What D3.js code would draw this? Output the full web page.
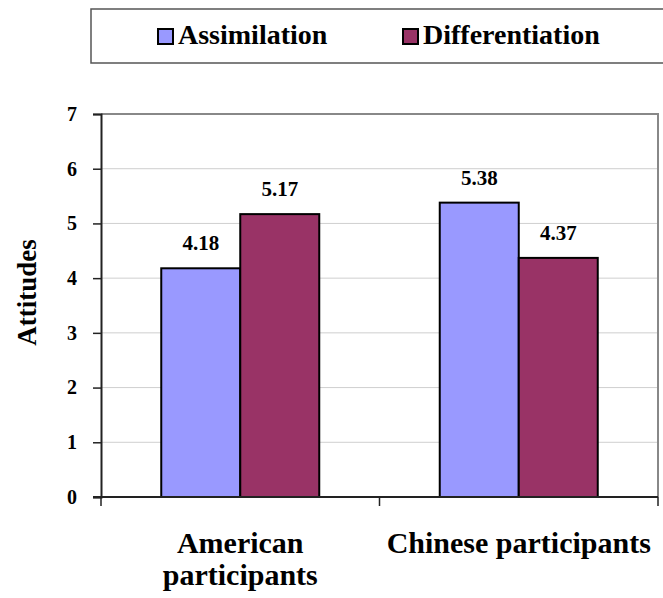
<!DOCTYPE html>
<html>
<head>
<meta charset="utf-8">
<script src="https://cdn.jsdelivr.net/npm/d3@7"></script>
</head>
<body style="margin:0">
<svg id="chart" width="663" height="598"></svg>
<script>
// Mean attitude scores by participant group
const categories = ["American participants", "Chinese participants"];
const categoryLines = [["American", "participants"], ["Chinese participants"]];
const seriesNames = ["Assimilation", "Differentiation"];
const assimilation = [4.18, 5.38];
const differentiation = [5.17, 4.37];
const yTicks = [0, 1, 2, 3, 4, 5, 6, 7];
const seriesColors = ["#9999ff", "#993366"];

const face = "Liberation Serif";
const series = [assimilation, differentiation];
const svg = d3.select("#chart");

const plot = { left: 101, right: 658, top: 114, bottom: 497 };

const x = d3.scaleBand()
  .domain(categories)
  .range([plot.left, plot.right]);

const barW = 79;
const xSeries = d3.scaleBand()
  .domain(seriesNames)
  .range([0, barW * 2]);

const y = d3.scaleLinear()
  .domain([0, 7])
  .range([plot.bottom, plot.top]);

function label(sel, size) {
  return sel
    .attr("font-family", `'${face}'`)
    .style("font-family", `'${face}'`)
    .style("font-weight", "bold")
    .style("font-size", size + "px")
    .attr("fill", "#000");
}

// Gridlines
svg.append("g")
  .selectAll("line")
  .data(yTicks.filter(d => d > 0 && d < 7))
  .join("line")
  .attr("x1", plot.left).attr("x2", plot.right)
  .attr("y1", d => y(d)).attr("y2", d => y(d))
  .attr("stroke", "#cfcfcf").attr("stroke-width", 1);

// Plot border (top and right)
svg.append("path")
  .attr("d", `M${plot.left},${y(7)}H${plot.right}V${plot.bottom}`)
  .attr("fill", "none").attr("stroke", "#888").attr("stroke-width", 2);

// Bars and value labels
const groups = svg.append("g")
  .selectAll("g")
  .data(categories)
  .join("g")
  .attr("transform", d => `translate(${x(d) + x.bandwidth() / 2 - barW},0)`);

groups.each(function(cat, ci) {
  const g = d3.select(this);
  seriesNames.forEach((s, si) => {
    const v = series[si][ci];
    g.append("rect")
      .attr("x", xSeries(s))
      .attr("y", y(v))
      .attr("width", xSeries.bandwidth())
      .attr("height", y(0) - y(v))
      .attr("fill", seriesColors[si])
      .attr("stroke", "#000")
      .attr("stroke-width", 2);
    g.append("text")
      .attr("x", xSeries(s) + xSeries.bandwidth() / 2)
      .attr("y", y(v) - 18)
      .attr("text-anchor", "middle")
      .call(label, 21)
      .text(v.toFixed(2));
  });
});

// Y axis
const yAxis = svg.append("g")
  .attr("transform", `translate(${plot.left},0)`)
  .call(d3.axisLeft(y).tickValues(yTicks).tickSize(8).tickPadding(16).tickFormat(d3.format("d")));
yAxis.attr("font-family", null);
yAxis.select(".domain").attr("stroke", "#222").attr("stroke-width", 2);
yAxis.selectAll(".tick line").attr("stroke", "#222").attr("stroke-width", 1.5);
yAxis.selectAll(".tick text").call(label, 20);

// X axis with ticks at category boundaries
const xAxis = svg.append("g")
  .attr("transform", `translate(0,${plot.bottom})`);
xAxis.append("line")
  .attr("x1", plot.left - 8).attr("x2", plot.right)
  .attr("stroke", "#222").attr("stroke-width", 2);
const bounds = [plot.left, ...categories.slice(1).map(c => x(c)), plot.right];
xAxis.selectAll(".xt")
  .data(bounds)
  .join("line")
  .attr("class", "xt")
  .attr("x1", d => d).attr("x2", d => d)
  .attr("y1", 0).attr("y2", 9)
  .attr("stroke", "#222").attr("stroke-width", 1.5);

// Category labels
categories.forEach((c, i) => {
  const cx = x(c) + x.bandwidth() / 2;
  categoryLines[i].forEach((line, li) => {
    svg.append("text")
      .attr("text-anchor", "middle")
      .call(label, 30)
      .attr("x", cx)
      .attr("y", 553 + li * 32)
      .text(line);
  });
});

// Y axis title
svg.append("text")
  .attr("transform", `translate(36,${(plot.top + plot.bottom) / 2 - 13}) rotate(-90)`)
  .attr("text-anchor", "middle")
  .call(label, 27)
  .text("Attitudes");

// Legend
const legend = svg.append("g");
legend.append("rect")
  .attr("x", 91).attr("y", 9).attr("width", 580).attr("height", 54)
  .attr("fill", "#fff").attr("stroke", "#555").attr("stroke-width", 1.5);
const legendX = [158, 403];
seriesNames.forEach((s, i) => {
  legend.append("rect")
    .attr("x", legendX[i]).attr("y", 29)
    .attr("width", 15).attr("height", 15)
    .attr("fill", seriesColors[i])
    .attr("stroke", "#000").attr("stroke-width", 2);
  legend.append("text")
    .attr("x", legendX[i] + 20).attr("y", 44)
    .call(label, 28)
    .text(s);
});
</script>
</body>
</html>
